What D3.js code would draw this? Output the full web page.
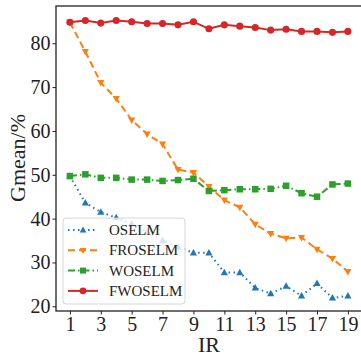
<!DOCTYPE html>
<html><head><meta charset="utf-8">
<script src="https://cdn.jsdelivr.net/npm/d3@7"></script>
<style>body{margin:0;background:#fff}svg{display:block}</style>
</head><body>
<script>
const irValues = [1,2,3,4,5,6,7,8,9,10,11,12,13,14,15,16,17,18,19];
const xTicks = [1,3,5,7,9,11,13,15,17,19];
const yTicks = [20,30,40,50,60,70,80];
const seriesNames = ["OSELM","FROSELM","WOSELM","FWOSELM"];
const oselm   = [49.7,43.6,41.5,40.2,38.8,37.0,35.0,33.5,32.2,32.2,27.7,27.7,24.2,22.9,24.6,22.4,25.2,21.9,22.4];
const froselm = [84.8,78.1,71.0,67.4,62.5,59.3,57.0,51.2,50.5,47.3,44.2,42.6,38.7,36.6,35.5,35.7,33.0,30.9,27.9];
const woselm  = [49.7,50.1,49.3,49.3,48.9,48.9,48.6,48.8,49.1,46.3,46.5,46.7,46.7,46.8,47.5,45.8,45.0,47.8,48.0];
const fwoselm = [84.8,85.2,84.6,85.2,84.9,84.5,84.5,84.2,84.9,83.3,84.2,83.9,83.6,83.0,83.2,82.7,82.7,82.5,82.7];
const colors = ["#1f77b4","#ff7f0e","#2ca02c","#d62728"];
const dashes = ["1.5,3.5","7,4","7,3,1.5,3",null];
const symbols = ["tri-up","tri-down","square","circle"];

const W=361,H=357;
const svg=d3.select("body").append("svg").attr("width",W).attr("height",H);
const x=d3.scaleLinear().domain([0.1,19.9]).range([56,361.8]);
const y=d3.scaleLinear().domain([18.93,88.5]).range([311,6]);
const font="'Liberation Serif','Times New Roman',serif";

const allSeries=[oselm,froselm,woselm,fwoselm];

function marker(g,type,cx,cy,col,s){
  if(type==="circle") g.append("circle").attr("cx",cx).attr("cy",cy).attr("r",s*0.55).attr("fill",col);
  else if(type==="square") g.append("rect").attr("x",cx-s*0.5).attr("y",cy-s*0.5).attr("width",s).attr("height",s).attr("fill",col);
  else if(type==="tri-up") g.append("path").attr("d",`M${cx},${cy-s*0.6}L${cx+s*0.55},${cy+s*0.4}L${cx-s*0.55},${cy+s*0.4}Z`).attr("fill",col);
  else g.append("path").attr("d",`M${cx},${cy+s*0.6}L${cx+s*0.55},${cy-s*0.4}L${cx-s*0.55},${cy-s*0.4}Z`).attr("fill",col);
}

const plot=svg.append("g");
allSeries.forEach((vals,i)=>{
  const line=d3.line().x((d,j)=>x(irValues[j])).y(d=>y(d));
  plot.append("path").datum(vals).attr("d",line).attr("fill","none")
    .attr("stroke",colors[i]).attr("stroke-width",2).attr("stroke-dasharray",dashes[i]);
  const mg=plot.append("g");
  vals.forEach((v,j)=>marker(mg,symbols[i],x(irValues[j]),y(v),colors[i],6.5));
});

// axes
const xAxis=svg.append("g").attr("transform","translate(0,311)")
  .call(d3.axisBottom(x).tickValues(xTicks).tickSize(3.5).tickPadding(2).tickFormat(d3.format("d")));
const yAxis=svg.append("g").attr("transform","translate(56,0)")
  .call(d3.axisLeft(y).tickValues(yTicks).tickSize(3.5).tickPadding(2).tickFormat(d3.format("d")));
[xAxis,yAxis].forEach(a=>{
  a.select(".domain").remove();
  a.selectAll("line").attr("stroke","#222").attr("stroke-width",1);
  a.selectAll("text").attr("font-family",font).attr("font-size",20).attr("fill","#222");
});
// frame
svg.append("rect").attr("x",56).attr("y",6).attr("width",361.8-56).attr("height",305)
  .attr("fill","none").attr("stroke","#222").attr("stroke-width",1.3);

svg.append("text").attr("x",209).attr("y",352).attr("text-anchor","middle")
  .attr("font-family",font).attr("font-size",22).attr("fill","#222").text("IR");
svg.append("text").attr("transform","translate(25,158) rotate(-90)").attr("text-anchor","middle")
  .attr("font-family",font).attr("font-size",22).attr("fill","#222").text("Gmean/%");

// legend
const lg=svg.append("g");
lg.append("rect").attr("x",63).attr("y",218).attr("width",122).attr("height",86).attr("rx",3)
  .attr("fill","#fff").attr("fill-opacity",0.8).attr("stroke","#ccc").attr("stroke-width",0.8);
seriesNames.forEach((n,i)=>{
  const yy=230+i*20.3;
  lg.append("line").attr("x1",68).attr("x2",98).attr("y1",yy).attr("y2",yy)
    .attr("stroke",colors[i]).attr("stroke-width",2).attr("stroke-dasharray",dashes[i]);
  marker(lg,symbols[i],83,yy,colors[i],6);
  lg.append("text").attr("x",109).attr("y",yy+5).attr("font-family",font).attr("font-size",15)
    .attr("fill","#222").text(n);
});
</script>
</body></html>
